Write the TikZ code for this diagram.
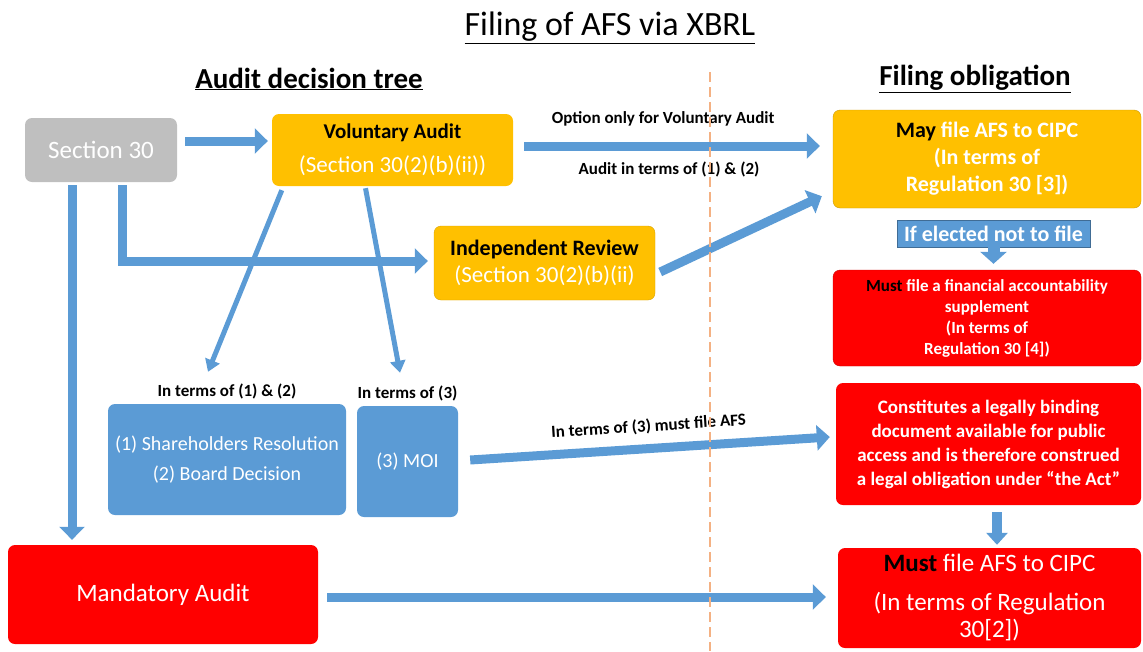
\documentclass[tikz,border=0pt]{standalone}
\usepackage{fontspec}
\setmainfont{Carlito}
\usetikzlibrary{arrows.meta,positioning}
\definecolor{secgray}{HTML}{BFBFBF}
\definecolor{audgold}{HTML}{FFC000}
\definecolor{mustred}{HTML}{FF0000}
\definecolor{flowblue}{HTML}{5B9BD5}
\definecolor{splitorange}{HTML}{F4B183}
\newcommand{\fsz}[2]{\fontsize{#1}{#2}\selectfont}
\begin{document}
\begin{tikzpicture}[x=1pt, y=-1pt,
  box/.style={rounded corners=7pt, inner sep=0pt, align=center, text=white},
  lbl/.style={font=\fsz{17}{20}\bfseries, inner sep=1pt},
  bigarrow/.style={draw=flowblue, line width=9pt, -{Triangle[length=13pt,width=25pt]}},
  thinarrow/.style={draw=flowblue, line width=5pt, -{Triangle[length=12pt,width=15pt]}}]
\useasboundingbox (0,0) rectangle (1143,651);

% headings
\node[font=\fsz{34}{40}] (title) at (610,28) {\underline{Filing of AFS via XBRL}};
\node[font=\fsz{29}{34}\bfseries] (treehd) at (309,79) {\underline{Audit decision tree}};
\node[font=\fsz{29}{34}\bfseries] (oblhd) at (975,79) {\underline{Filing obligation}};

% audit decision tree
\node[box, fill=secgray, minimum width=152pt, minimum height=64pt, font=\fsz{25}{29}] (sec) at (101,150) {Section 30};
\node[box, fill=audgold, minimum width=241pt, minimum height=72pt, font=\fsz{23}{27}] (vol) at (392.5,150)
  {\textcolor{black}{\fsz{21}{25}\bfseries Voluntary Audit}\\[7pt](Section 30(2)(b)(ii))};
\node[box, fill=audgold, draw=audgold!85!black, minimum width=221pt, minimum height=74pt, font=\fsz{23}{27}] (ind) at (544.5,263)
  {\textcolor{black}{\fsz{22}{25}\bfseries Independent Review}\\(Section 30(2)(b)(ii)};
\node[box, fill=flowblue, minimum width=238pt, minimum height=111pt, font=\fsz{20}{30}] (res) at (227,459.5)
  {(1) Shareholders Resolution\\(2) Board Decision};
\node[box, fill=flowblue, minimum width=101pt, minimum height=111pt, font=\fsz{20}{24}] (moi) at (407.5,461.5) {(3) MOI};
\node[box, fill=mustred, minimum width=310pt, minimum height=99pt, font=\fsz{25}{29}] (mand) at (163,594.5) {Mandatory Audit};
\node[lbl, above=4pt of res.north] (reslbl) {In terms of (1) \& (2)};
\node[lbl, above=4pt of moi.north] (moilbl) {In terms of (3)};

% filing obligation
\node[box, fill=audgold, draw=audgold!80!black, minimum width=308pt, minimum height=98pt, font=\fsz{22}{27}\bfseries] (may) at (987,159)
  {\textcolor{black}{May} file AFS to CIPC\\(In terms of\\Regulation 30 [3])};
\node[fill=flowblue, draw=flowblue!70!black, text=white, minimum width=193pt, minimum height=27pt, inner sep=0pt, font=\fsz{22}{24}\bfseries] (elect) at (993.5,233.5) {If elected not to file};
\node[box, fill=mustred, draw=mustred!80!black, minimum width=308pt, minimum height=96pt, font=\fsz{17}{21}\bfseries] (sup) at (987,318)
  {\textcolor{black}{Must} file a financial accountability\\supplement\\(In terms of\\Regulation 30 [4])};
\node[box, fill=mustred, minimum width=305pt, minimum height=122pt, font=\fsz{19}{24}\bfseries] (legal) at (988.5,444)
  {Constitutes a legally binding\\document available for public\\access and is therefore construed\\a legal obligation under “the Act”};
\node[box, fill=mustred, minimum width=303pt, minimum height=100pt, font=\fsz{25}{27}] (must) at (989.5,598)
  {\textcolor{black}{\bfseries Must} file AFS to CIPC\\[12pt](In terms of Regulation\\30[2])};

% connectors
\draw[bigarrow] ([shift={(8,-9)}]sec.east) -- ([shift={(-4,-9)}]vol.west);
\draw[bigarrow] ([shift={(-29,3)}]sec.south) -- ([shift={(-91,-5)}]mand.north);
\draw[bigarrow] ([shift={(21,3)}]sec.south) |- ([shift={(-6,-2)}]ind.west);
\draw[bigarrow] ([shift={(11,-4)}]vol.east) -- ([shift={(-13,-13)}]may.west)
  node[lbl, pos=0.47, above=14pt] (optlbl) {Option only for Voluntary Audit}
  node[lbl, pos=0.49, below=10pt] (audlbl) {Audit in terms of (1) \& (2)};
\draw[thinarrow] ([shift={(10,4)}]vol.south west) -- ([shift={(-19,-32)}]res.north);
\draw[thinarrow] ([shift={(-27,2)}]vol.south) -- ([shift={(-7.5,-33)}]moi.north);
\draw[bigarrow] ([shift={(5,9)}]ind.east) -- ([shift={(-11,-12)}]may.south west);
\draw[bigarrow] ([shift={(12,-1.5)}]moi.east) -- ([shift={(-6,-7)}]legal.west)
  node[lbl, midway, sloped, above=9pt] (afslbl) {In terms of (3) must file AFS};
\draw[bigarrow] ([shift={(9,2.5)}]mand.east) -- ([shift={(-12,-1)}]must.west);
\draw[draw=flowblue, line width=12pt, -{Triangle[length=12pt,width=26pt]}, shorten >=6pt] (elect.south) -- (elect.south |- sup.north);
\draw[draw=flowblue, line width=10pt, -{Triangle[length=12pt,width=21pt]}] ([shift={(8.5,7)}]legal.south) -- ([shift={(7.5,-3)}]must.north);

% divider
\coordinate (splittop) at (710,72);
\coordinate (splitbot) at (710,651);
\draw[splitorange, line width=2.5pt, dash pattern=on 10pt off 5pt] (splittop) -- (splitbot);
\end{tikzpicture}
\end{document}
